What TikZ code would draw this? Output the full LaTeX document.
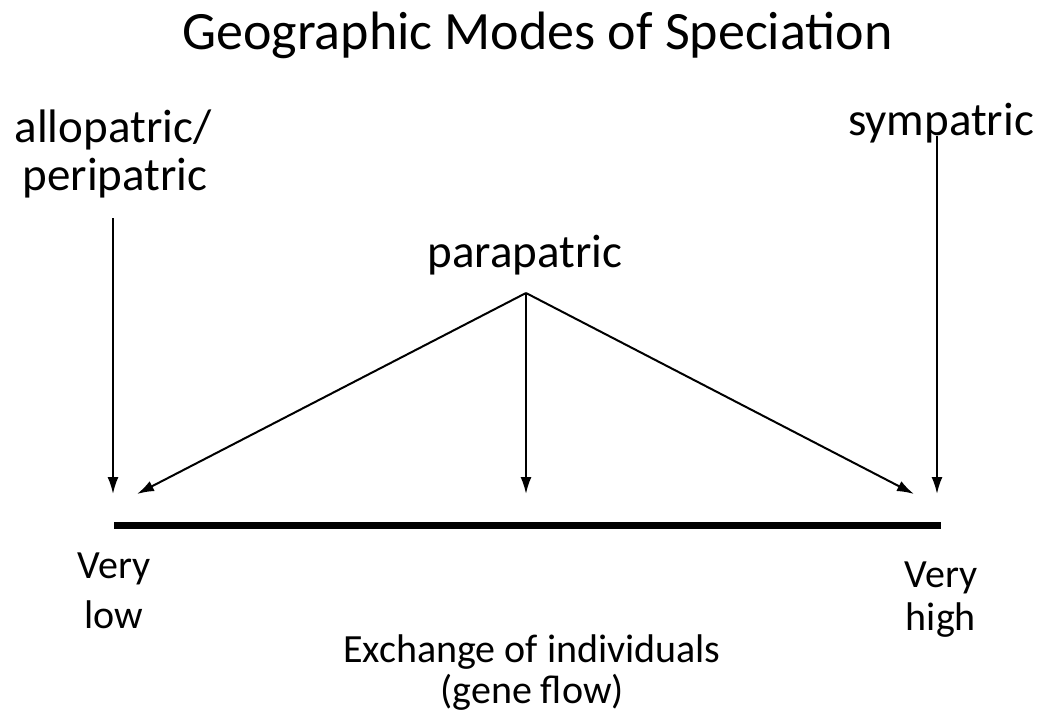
\documentclass[tikz,border=0pt]{standalone}
\usepackage{fontspec}
\setmainfont{Carlito}
\usetikzlibrary{arrows.meta}
\begin{document}
\begin{tikzpicture}[x=1pt,y=-1pt,
  ttl/.style={inner sep=0pt, font=\fontsize{54}{60}\selectfont},
  lbl/.style={inner sep=0pt, font=\fontsize{47}{50}\selectfont},
  small/.style={inner sep=0pt, font=\fontsize{40}{44}\selectfont},
  arr/.style={line width=2pt, -{Latex[length=17pt,width=11pt]}}]
\useasboundingbox (0,0) rectangle (1041,723);
% title
\node[ttl, anchor=base east] (title) at (893,49) {Geographic Modes of Speciation};
% mode labels
\node[lbl, anchor=base] (allo) at (113,142) {allopatric/};
\node[lbl, anchor=base] (peri) at (115,190) {peripatric};
\node[lbl, anchor=base] (symp) at (941,135) {sympatric};
\node[lbl, anchor=base] (para) at (525,267) {parapatric};
% anchor points of the connectors
\coordinate (allotop) at (113,218);
\coordinate (symptop) at (937,136);
\coordinate (apex) at (526,293);
\coordinate (lowL) at (113,494);
\coordinate (lowR) at (937,494);
\coordinate (tL) at (137,494);
\coordinate (tM) at (526,494);
\coordinate (tR) at (914,494);
\coordinate (axisL) at (114,525);
\coordinate (axisR) at (941,525);
% arrows
\draw[arr] (allotop) -- (lowL);
\draw[arr] (symptop) -- (lowR);
\draw[arr] (apex) -- (tL);
\draw[arr] (apex) -- (tM);
\draw[arr] (apex) -- (tR);
% gene-flow axis
\draw[line width=7pt] (axisL) -- (axisR);
% axis labels
\node[small, anchor=base] (vlow1) at (114,578) {Very};
\node[small, anchor=base] (vlow2) at (114,628) {low};
\node[small, anchor=base] (vhigh1) at (941,587) {Very};
\node[small, anchor=base] (vhigh2) at (941,630) {high};
\node[small, anchor=base] (xlab1) at (532,662) {Exchange of individuals};
\node[small, anchor=base] (xlab2) at (532,703) {(gene flow)};
\end{tikzpicture}
\end{document}
